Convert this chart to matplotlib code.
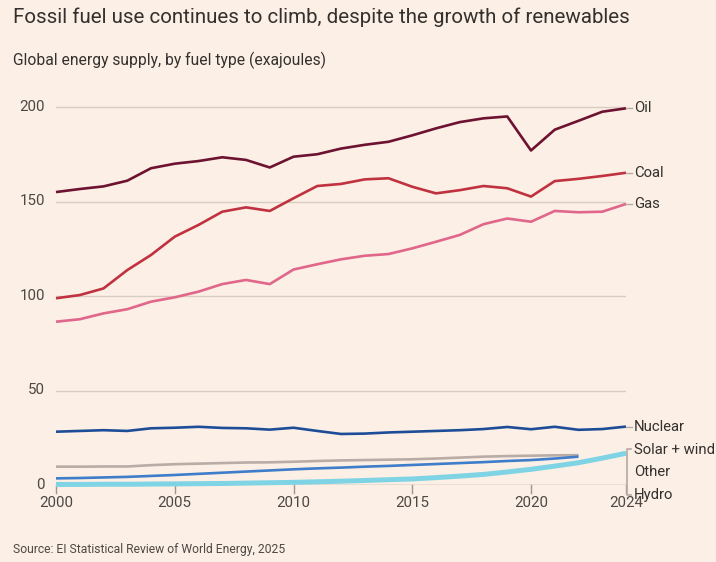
import matplotlib
matplotlib.use("Agg")
import matplotlib.pyplot as plt
from matplotlib.lines import Line2D

# ---------------- data ----------------
years = list(range(2000, 2025))
oil = [155.0, 156.6, 158.0, 161.0, 167.6, 170.0, 171.4, 173.4, 172.0, 168.0,
       173.7, 175.0, 178.0, 180.0, 181.6, 185.0, 188.7, 192.0, 194.0, 195.0,
       177.0, 188.0, 192.7, 197.5, 199.3]
coal = [98.8, 100.5, 104.0, 113.7, 121.7, 131.4, 137.6, 144.6, 146.9, 145.0,
        151.7, 158.2, 159.3, 161.7, 162.3, 157.8, 154.3, 156.0, 158.2, 157.0,
        152.6, 160.8, 162.0, 163.5, 165.2]
gas = [86.4, 87.7, 90.8, 93.0, 97.0, 99.3, 102.3, 106.3, 108.5, 106.3,
       114.0, 116.8, 119.4, 121.3, 122.2, 125.2, 128.7, 132.3, 138.0, 141.0,
       139.3, 145.0, 144.3, 144.6, 148.7]
nuclear = [28.2, 28.6, 29.0, 28.6, 30.0, 30.3, 30.8, 30.2, 30.0, 29.3,
           30.3, 28.6, 27.0, 27.2, 27.8, 28.2, 28.6, 29.0, 29.6, 30.7,
           29.5, 30.8, 29.2, 29.6, 30.9]
other_years = list(range(2000, 2023))
other = [9.7, 9.7, 9.8, 9.8, 10.5, 11.0, 11.3, 11.6, 11.9, 12.0,
         12.3, 12.7, 13.0, 13.2, 13.4, 13.6, 14.0, 14.5, 15.0, 15.3,
         15.5, 15.7, 15.8]
hydro_years = list(range(2000, 2023))
hydro = [3.5, 3.7, 4.0, 4.3, 4.8, 5.3, 5.9, 6.5, 7.1, 7.7,
         8.3, 8.8, 9.2, 9.7, 10.1, 10.6, 11.1, 11.6, 12.1, 12.7,
         13.2, 14.0, 15.0]
solar_wind = [0.3, 0.3, 0.4, 0.4, 0.5, 0.6, 0.7, 0.8, 1.0, 1.2,
              1.4, 1.7, 2.0, 2.4, 2.8, 3.2, 3.9, 4.7, 5.6, 6.9,
              8.3, 10.0, 11.8, 14.2, 16.8]

yticks = [0, 50, 100, 150, 200]
xticks = [2000, 2005, 2010, 2015, 2020, 2024]

title = "Fossil fuel use continues to climb, despite the growth of renewables"
subtitle = "Global energy supply, by fuel type (exajoules)"
source = "Source: EI Statistical Review of World Energy, 2025"

# ---------------- style ----------------
BG = "#FCEFE5"
TXT = "#33302E"
TICKTXT = "#4D4845"
GRID = "#D9CCC2"
AXIS = "#9E958E"
LEAD = "#B3AAA3"
C_OIL = "#6D1230"
C_COAL = "#C0323F"
C_GAS = "#E0668A"
C_NUC = "#1E4D98"
C_HYD = "#3D7DCA"
C_OTH = "#B9ACA6"
C_SOL = "#7ED4E4"
FONT = "Roboto"

W, H = 716, 562
fig = plt.figure(figsize=(W / 100, H / 100), dpi=100)
fig.patch.set_facecolor(BG)
renderer = fig.canvas.get_renderer()


def fx(px):
    return px / W


def fy(py):
    return 1 - py / H


def fitted_size(s, target_w, size0=12):
    t = fig.text(0, 0, s, fontsize=size0, family=FONT)
    w = t.get_window_extent(renderer).width
    t.remove()
    return size0 * target_w / w


def fit_text(x, y, s, target_w, size0=12, **kw):
    size = fitted_size(s, target_w, size0)
    return fig.text(fx(x), fy(y), s, fontsize=size, family=FONT, **kw)


y0px, y200px = 485, 107
ppu = (y0px - y200px) / 200.0
top_px = 95
ymax = (y0px - top_px) / ppu
x0px, x1px = 56, 626

ax = fig.add_axes([fx(x0px), fy(y0px), (x1px - x0px) / W, (y0px - top_px) / H])
ax.set_facecolor(BG)
ax.set_xlim(2000, 2024)
ax.set_ylim(0, ymax)
for s in ax.spines.values():
    s.set_visible(False)

# gridlines
for v in yticks[1:]:
    ax.axhline(v, color=GRID, lw=1.0, zorder=1)
ax.axhline(0, color=AXIS, lw=1.0, zorder=1)

ax.set_yticks([])
ax.set_xticks([])

# x ticks (drawn as marks below the baseline)
for xv in xticks:
    ax.plot([xv, xv], [0, -4.0], color=AXIS, lw=1.0, clip_on=False, zorder=1)

# series
kw = dict(solid_capstyle="butt", solid_joinstyle="round", clip_on=False)
ax.plot(years, nuclear, color=C_NUC, lw=1.9, zorder=3, **kw)
ax.plot(other_years, other, color=C_OTH, lw=1.9, zorder=3, **kw)
ax.plot(hydro_years, hydro, color=C_HYD, lw=1.9, zorder=3, **kw)
ax.plot(years, solar_wind, color=C_SOL, lw=3.6, zorder=4, **kw)
ax.plot(years, gas, color=C_GAS, lw=1.9, zorder=5, **kw)
ax.plot(years, coal, color=C_COAL, lw=1.9, zorder=5, **kw)
ax.plot(years, oil, color=C_OIL, lw=1.9, zorder=6, **kw)

# tick labels
tick_size = fitted_size("2000", 34, 12)
for v in yticks:
    py = y0px - v * ppu
    fig.text(fx(45), fy(py), str(v), ha="right", va="center",
             fontsize=tick_size, family=FONT, color=TICKTXT)
for xv in xticks:
    px = x0px + (xv - 2000) * (x1px - x0px) / 24
    fig.text(fx(px), fy(503), str(xv), ha="center", va="center",
             fontsize=tick_size, family=FONT, color=TICKTXT)

# right-hand labels with leaders
lab_size = fitted_size("Solar + wind", 81, 12)


def px_of(v):
    return y0px - v * ppu


for name, val in [("Oil", oil[-1]), ("Coal", coal[-1]), ("Gas", gas[-1]),
                  ("Nuclear", nuclear[-1])]:
    py = px_of(val)
    fig.add_artist(Line2D([fx(626), fx(632)], [fy(py), fy(py)], color=LEAD, lw=1.0))
    fig.text(fx(634), fy(py), name, ha="left", va="center", fontsize=lab_size,
             family=FONT, color=TXT)

# bracket for the small series
fig.add_artist(Line2D([fx(631), fx(627), fx(627), fx(631)],
                      [fy(449), fy(449), fy(495), fy(495)], color=LEAD, lw=1.2))
for name, py in [("Solar + wind", 450), ("Other", 472), ("Hydro", 495)]:
    fig.text(fx(634), fy(py), name, ha="left", va="center", fontsize=lab_size,
             family=FONT, color=TXT)

# titles
fit_text(13, 17, title, 617, 20, ha="left", va="center", color=TXT)
fit_text(13, 60, subtitle, 313, 14, ha="left", va="center", color=TXT)
fit_text(13, 550, source, 272, 11, ha="left", va="center", color=TICKTXT)

fig.savefig("out.png", dpi=100, facecolor=BG)
